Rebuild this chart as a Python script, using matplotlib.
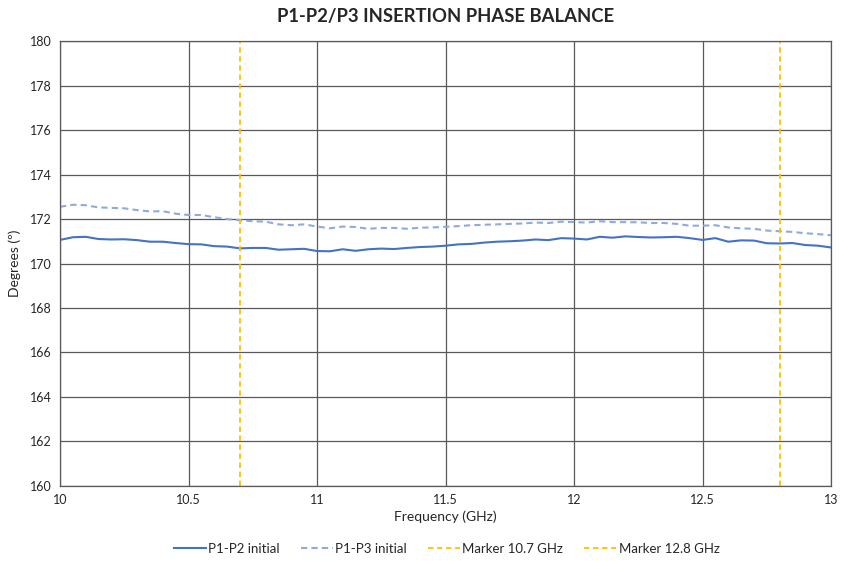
import numpy as np
import matplotlib

matplotlib.use("Agg")
import matplotlib.pyplot as plt

plt.rcParams["font.family"] = ["Lato", "DejaVu Sans"]

freq = np.round(np.arange(10.0, 13.0001, 0.05), 2)

p1_p2 = [
    171.06, 171.18, 171.20, 171.10, 171.08, 171.09, 171.05, 170.98, 170.98, 170.92,
    170.87, 170.86, 170.78, 170.76, 170.68, 170.70, 170.70, 170.62, 170.64, 170.66,
    170.56, 170.55, 170.64, 170.57, 170.64, 170.67, 170.65, 170.70, 170.74, 170.76,
    170.80, 170.86, 170.88, 170.94, 170.98, 171.00, 171.03, 171.08, 171.05, 171.14,
    171.12, 171.08, 171.20, 171.16, 171.22, 171.19, 171.17, 171.18, 171.20, 171.14,
    171.06, 171.14, 170.98, 171.04, 171.03, 170.91, 170.90, 170.92, 170.83, 170.80,
    170.72,
]

p1_p3 = [
    172.55, 172.64, 172.62, 172.52, 172.50, 172.48, 172.40, 172.34, 172.35, 172.24,
    172.18, 172.18, 172.08, 172.00, 171.94, 171.90, 171.88, 171.76, 171.72, 171.76,
    171.66, 171.58, 171.66, 171.64, 171.56, 171.60, 171.60, 171.56, 171.61, 171.62,
    171.65, 171.68, 171.72, 171.74, 171.76, 171.78, 171.80, 171.84, 171.82, 171.88,
    171.86, 171.84, 171.90, 171.86, 171.86, 171.85, 171.82, 171.82, 171.78, 171.70,
    171.70, 171.72, 171.62, 171.58, 171.56, 171.48, 171.45, 171.42, 171.36, 171.32,
    171.27,
]

markers = [10.7, 12.8]
marker_labels = ["Marker 10.7 GHz", "Marker 12.8 GHz"]

fig = plt.figure(figsize=(8.43, 5.61), dpi=100)
ax = fig.add_axes([0.0712, 0.1337, 0.9146, 0.7932])

ax.plot(freq, p1_p2, color="#4472C4", lw=1.5, label="P1-P2 initial")
ax.plot(freq, p1_p3, color="#8FAADC", lw=1.5, ls=(0, (3, 2)), label="P1-P3 initial")
for m, lab in zip(markers, marker_labels):
    ax.axvline(m, color="#FFC000", lw=1.3, ls=(0, (3, 2)), label=lab)

ax.set_xlim(10, 13)
ax.set_ylim(160, 180)
ax.set_xticks([10, 10.5, 11, 11.5, 12, 12.5, 13])
ax.set_xticklabels(["10", "10.5", "11", "11.5", "12", "12.5", "13"])
ax.set_yticks(np.arange(160, 181, 2))
ax.grid(True, color="#595959", lw=0.9)
ax.set_axisbelow(True)
for s in ax.spines.values():
    s.set_color("#595959")
    s.set_linewidth(0.9)
ax.tick_params(length=0, labelsize=9, colors="#262626", pad=6)

ax.set_xlabel("Frequency (GHz)", fontsize=10, color="#262626", labelpad=3)
ax.set_ylabel("Degrees (º)", fontsize=10, color="#262626", labelpad=6)
fig.suptitle("P1-P2/P3 INSERTION PHASE BALANCE", x=0.528, y=0.985,
             fontsize=13.3, fontweight="bold", color="#262626")

fig.legend(loc="lower center", bbox_to_anchor=(0.53, -0.01), ncol=4, frameon=False,
           fontsize=9.5, handlelength=2.4, handletextpad=0.2, columnspacing=1.6,
           labelcolor="#262626")

fig.savefig("out.png", dpi=100)
